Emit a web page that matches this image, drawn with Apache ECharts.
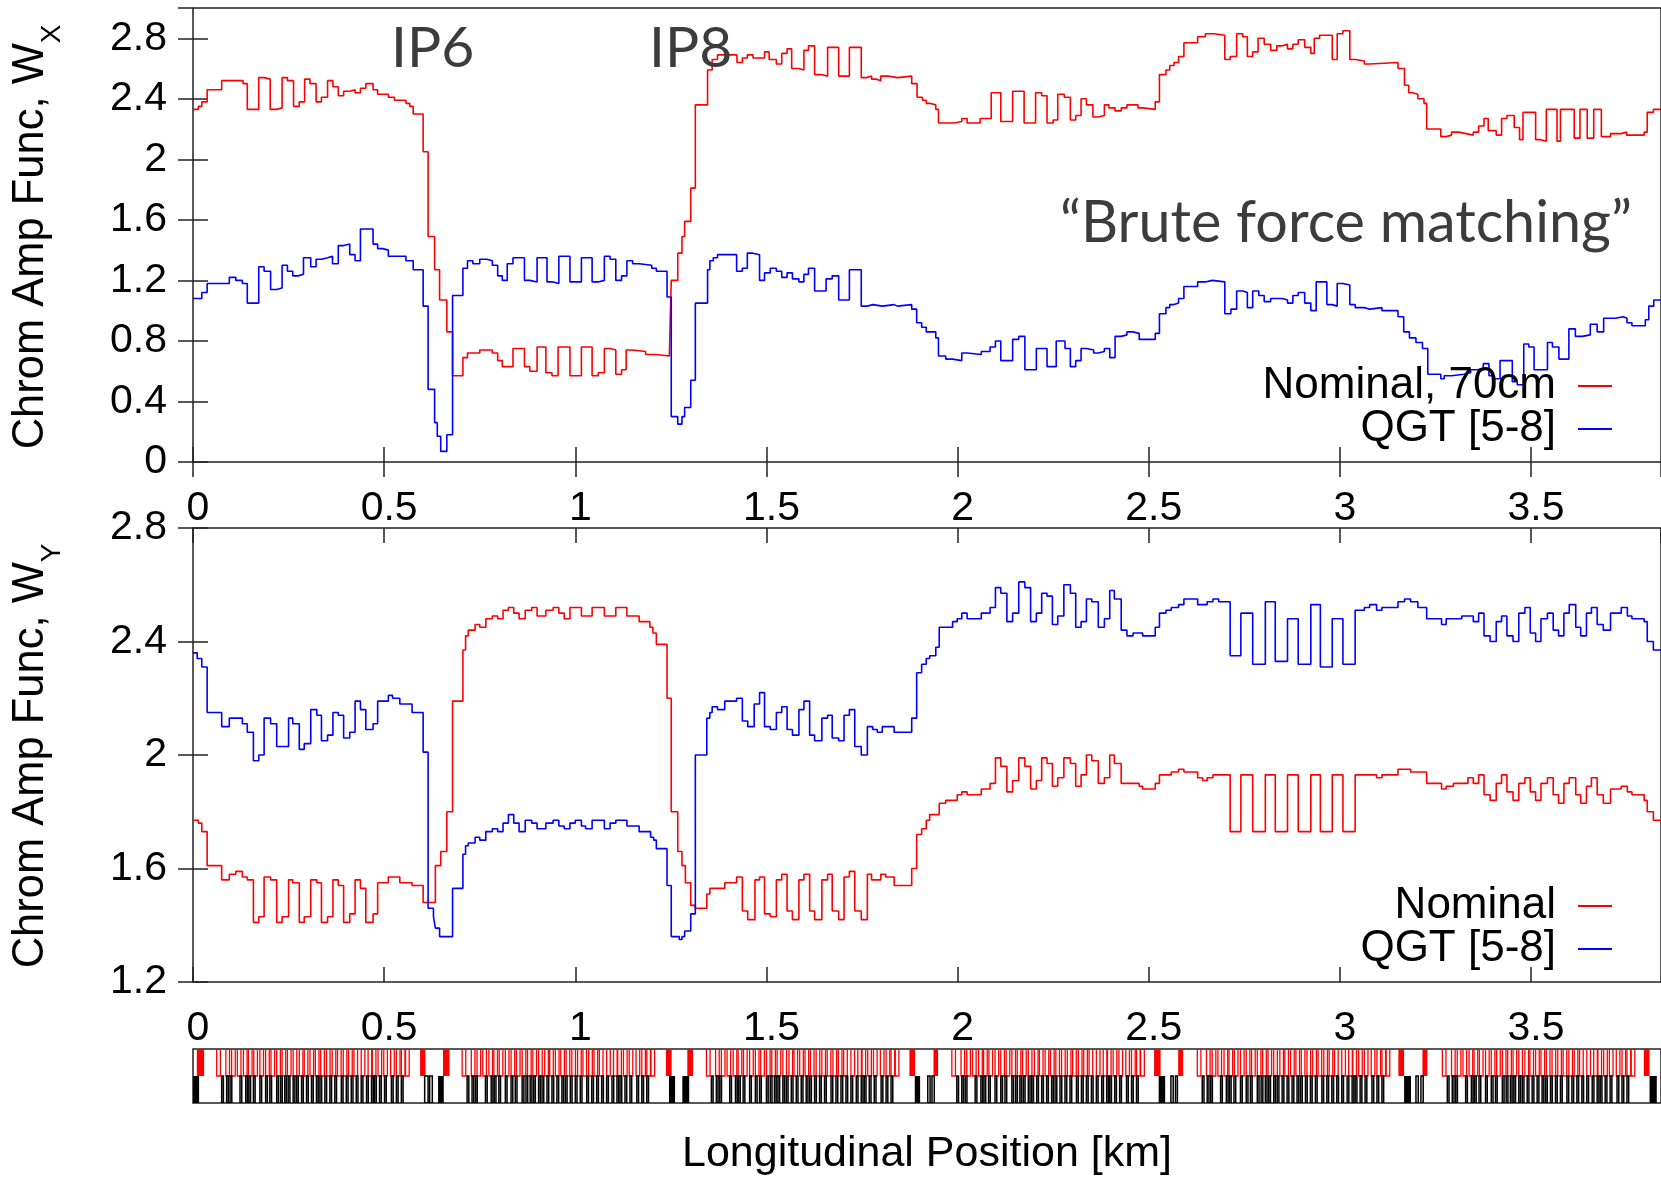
<!DOCTYPE html>
<html><head><meta charset="utf-8">
<script src="https://cdn.jsdelivr.net/npm/echarts@6/dist/echarts.min.js"></script>
<style>html,body{margin:0;padding:0;background:#fff}#c{width:1661px;height:1177px}</style>
</head><body><div id="c"></div><script>
// ---------- data (km, value) : each pair = start of a step ----------
const wxNominal = [[0,2.33],[0.014,2.35],[0.023,2.38],[0.037,2.46],[0.075,2.52],[0.131,2.50],[0.142,2.33],[0.172,2.54],[0.186,2.53],[0.202,2.33],[0.219,2.34],[0.233,2.54],[0.247,2.52],[0.263,2.35],[0.278,2.38],[0.292,2.53],[0.306,2.50],[0.322,2.38],[0.336,2.41],[0.352,2.52],[0.366,2.48],[0.380,2.42],[0.394,2.45],[0.410,2.46],[0.424,2.44],[0.438,2.47],[0.452,2.50],[0.471,2.46],[0.483,2.43],[0.511,2.41],[0.527,2.39],[0.557,2.37],[0.567,2.35],[0.576,2.30],[0.602,2.05],[0.615,1.49],[0.632,1.27],[0.645,1.07],[0.664,0.86],[0.679,0.57],[0.706,0.69],[0.718,0.72],[0.750,0.74],[0.783,0.72],[0.797,0.67],[0.809,0.63],[0.837,0.75],[0.867,0.63],[0.881,0.60],[0.900,0.76],[0.923,0.59],[0.939,0.57],[0.955,0.76],[0.986,0.57],[1.016,0.76],[1.044,0.57],[1.060,0.59],[1.076,0.75],[1.091,0.74],[1.106,0.58],[1.121,0.61],[1.133,0.74],[1.150,0.73],[1.184,0.71],[1.212,0.70],[1.246,0.69],[1.251,1.20],[1.268,1.38],[1.279,1.49],[1.286,1.59],[1.302,1.81],[1.314,2.36],[1.346,2.59],[1.358,2.66],[1.372,2.69],[1.423,2.64],[1.437,2.67],[1.450,2.69],[1.465,2.67],[1.495,2.71],[1.507,2.66],[1.526,2.63],[1.540,2.70],[1.554,2.73],[1.566,2.60],[1.584,2.59],[1.598,2.72],[1.610,2.75],[1.626,2.56],[1.643,2.55],[1.660,2.74],[1.689,2.55],[1.717,2.74],[1.748,2.54],[1.762,2.55],[1.775,2.53],[1.787,2.52],[1.799,2.55],[1.818,2.54],[1.843,2.55],[1.880,2.50],[1.894,2.41],[1.908,2.39],[1.918,2.37],[1.927,2.36],[1.943,2.33],[1.950,2.24],[1.992,2.25],[2.011,2.27],[2.025,2.24],[2.059,2.27],[2.088,2.44],[2.113,2.25],[2.144,2.45],[2.174,2.24],[2.204,2.44],[2.220,2.42],[2.234,2.24],[2.250,2.26],[2.262,2.43],[2.279,2.41],[2.295,2.26],[2.309,2.29],[2.323,2.40],[2.337,2.36],[2.354,2.28],[2.368,2.29],[2.384,2.36],[2.396,2.34],[2.412,2.32],[2.428,2.34],[2.443,2.36],[2.472,2.34],[2.484,2.33],[2.517,2.38],[2.528,2.56],[2.545,2.59],[2.555,2.62],[2.566,2.64],[2.578,2.68],[2.592,2.77],[2.628,2.81],[2.648,2.83],[2.671,2.82],[2.699,2.66],[2.713,2.68],[2.730,2.83],[2.746,2.81],[2.758,2.68],[2.772,2.71],[2.786,2.80],[2.802,2.76],[2.819,2.72],[2.835,2.75],[2.849,2.76],[2.863,2.73],[2.877,2.76],[2.891,2.79],[2.908,2.74],[2.924,2.70],[2.933,2.80],[2.947,2.82],[2.980,2.66],[2.993,2.83],[3.008,2.85],[3.026,2.66],[3.040,2.65],[3.064,2.63],[3.078,2.64],[3.152,2.60],[3.169,2.49],[3.180,2.44],[3.190,2.43],[3.204,2.40],[3.220,2.37],[3.227,2.20],[3.264,2.15],[3.278,2.16],[3.292,2.18],[3.311,2.17],[3.330,2.16],[3.349,2.18],[3.363,2.22],[3.377,2.27],[3.388,2.19],[3.409,2.16],[3.423,2.27],[3.437,2.29],[3.456,2.21],[3.470,2.13],[3.479,2.31],[3.512,2.13],[3.526,2.12],[3.540,2.33],[3.568,2.12],[3.577,2.33],[3.613,2.14],[3.628,2.33],[3.647,2.14],[3.664,2.33],[3.684,2.15],[3.708,2.17],[3.736,2.18],[3.750,2.16],[3.764,2.16],[3.796,2.18],[3.804,2.31],[3.820,2.33],[3.84,2.33]];

const wxQGT = [[0,1.08],[0.023,1.12],[0.037,1.18],[0.095,1.22],[0.112,1.20],[0.129,1.18],[0.142,1.05],[0.172,1.29],[0.186,1.26],[0.203,1.14],[0.219,1.15],[0.233,1.30],[0.247,1.26],[0.261,1.23],[0.275,1.24],[0.289,1.35],[0.308,1.29],[0.322,1.34],[0.336,1.35],[0.352,1.36],[0.365,1.31],[0.380,1.43],[0.394,1.44],[0.410,1.37],[0.424,1.33],[0.438,1.54],[0.471,1.44],[0.483,1.41],[0.496,1.40],[0.511,1.36],[0.557,1.33],[0.576,1.27],[0.602,1.03],[0.615,0.48],[0.632,0.26],[0.639,0.17],[0.648,0.07],[0.664,0.18],[0.679,1.10],[0.706,1.28],[0.718,1.33],[0.732,1.31],[0.750,1.34],[0.769,1.33],[0.783,1.30],[0.797,1.23],[0.809,1.20],[0.822,1.31],[0.837,1.35],[0.867,1.20],[0.881,1.19],[0.900,1.35],[0.926,1.19],[0.942,1.18],[0.957,1.36],[0.986,1.19],[1.016,1.35],[1.044,1.19],[1.060,1.20],[1.076,1.36],[1.091,1.34],[1.106,1.20],[1.121,1.23],[1.135,1.33],[1.150,1.31],[1.167,1.30],[1.200,1.28],[1.212,1.26],[1.240,1.09],[1.251,0.30],[1.268,0.25],[1.279,0.30],[1.286,0.36],[1.302,0.54],[1.314,1.05],[1.346,1.27],[1.352,1.33],[1.361,1.35],[1.372,1.37],[1.422,1.26],[1.437,1.28],[1.450,1.38],[1.465,1.37],[1.482,1.20],[1.495,1.25],[1.510,1.28],[1.526,1.26],[1.540,1.22],[1.554,1.25],[1.568,1.21],[1.585,1.19],[1.598,1.24],[1.610,1.28],[1.626,1.13],[1.656,1.21],[1.672,1.23],[1.689,1.07],[1.717,1.27],[1.748,1.03],[1.764,1.04],[1.778,1.03],[1.803,1.04],[1.834,1.03],[1.843,1.04],[1.880,1.01],[1.893,0.92],[1.906,0.89],[1.918,0.86],[1.943,0.82],[1.950,0.70],[1.969,0.68],[1.987,0.67],[2.011,0.72],[2.025,0.71],[2.062,0.73],[2.085,0.76],[2.099,0.80],[2.113,0.67],[2.144,0.81],[2.160,0.83],[2.176,0.61],[2.206,0.75],[2.234,0.63],[2.258,0.80],[2.281,0.75],[2.295,0.63],[2.309,0.67],[2.323,0.75],[2.337,0.74],[2.356,0.72],[2.368,0.73],[2.384,0.75],[2.398,0.69],[2.412,0.83],[2.428,0.84],[2.443,0.86],[2.459,0.85],[2.475,0.81],[2.517,0.85],[2.528,0.98],[2.545,1.02],[2.555,1.04],[2.566,1.05],[2.578,1.08],[2.592,1.16],[2.628,1.19],[2.648,1.20],[2.666,1.19],[2.699,0.98],[2.715,1.01],[2.730,1.13],[2.746,1.12],[2.758,1.02],[2.772,1.13],[2.788,1.10],[2.802,1.06],[2.819,1.08],[2.849,1.07],[2.863,1.05],[2.877,1.10],[2.891,1.12],[2.908,1.05],[2.924,1.00],[2.938,1.19],[2.966,1.04],[2.980,1.03],[2.993,1.18],[3.008,1.17],[3.026,1.04],[3.040,1.02],[3.064,1.01],[3.078,1.02],[3.110,1.00],[3.152,0.96],[3.167,0.86],[3.182,0.82],[3.199,0.79],[3.216,0.75],[3.230,0.58],[3.264,0.55],[3.273,0.57],[3.292,0.58],[3.325,0.59],[3.342,0.61],[3.360,0.62],[3.375,0.65],[3.390,0.57],[3.403,0.55],[3.419,0.67],[3.451,0.53],[3.464,0.51],[3.481,0.78],[3.494,0.76],[3.508,0.61],[3.543,0.79],[3.556,0.76],[3.573,0.68],[3.599,0.88],[3.616,0.83],[3.634,0.84],[3.655,0.91],[3.673,0.86],[3.690,0.95],[3.721,0.96],[3.741,0.95],[3.751,0.92],[3.764,0.90],[3.799,0.94],[3.808,1.03],[3.821,1.07],[3.84,1.07]];

const wyNominal = [[0,1.77],[0.014,1.76],[0.023,1.73],[0.037,1.61],[0.075,1.56],[0.095,1.58],[0.112,1.59],[0.129,1.57],[0.142,1.56],[0.158,1.41],[0.172,1.43],[0.186,1.57],[0.203,1.56],[0.219,1.41],[0.233,1.43],[0.250,1.56],[0.261,1.55],[0.278,1.41],[0.291,1.43],[0.308,1.56],[0.324,1.55],[0.336,1.41],[0.352,1.43],[0.366,1.56],[0.380,1.54],[0.394,1.41],[0.410,1.44],[0.424,1.56],[0.438,1.53],[0.452,1.41],[0.471,1.44],[0.483,1.55],[0.511,1.57],[0.541,1.55],[0.573,1.54],[0.602,1.48],[0.634,1.61],[0.648,1.66],[0.664,1.80],[0.679,2.19],[0.706,2.37],[0.713,2.42],[0.720,2.44],[0.738,2.46],[0.750,2.45],[0.766,2.48],[0.783,2.49],[0.797,2.48],[0.811,2.51],[0.825,2.52],[0.839,2.50],[0.853,2.48],[0.869,2.51],[0.886,2.52],[0.900,2.49],[0.923,2.51],[0.942,2.52],[0.957,2.50],[0.971,2.48],[0.986,2.52],[1.016,2.49],[1.044,2.52],[1.076,2.49],[1.106,2.52],[1.135,2.49],[1.167,2.47],[1.195,2.45],[1.203,2.43],[1.212,2.39],[1.240,2.20],[1.251,1.80],[1.268,1.66],[1.279,1.61],[1.288,1.55],[1.302,1.47],[1.314,1.46],[1.344,1.51],[1.352,1.53],[1.391,1.55],[1.422,1.57],[1.437,1.45],[1.451,1.42],[1.470,1.56],[1.482,1.57],[1.495,1.44],[1.510,1.43],[1.526,1.56],[1.540,1.58],[1.554,1.45],[1.568,1.42],[1.585,1.56],[1.598,1.58],[1.613,1.45],[1.626,1.42],[1.645,1.56],[1.660,1.58],[1.672,1.45],[1.689,1.42],[1.703,1.57],[1.717,1.59],[1.731,1.45],[1.748,1.42],[1.764,1.58],[1.775,1.56],[1.799,1.58],[1.812,1.57],[1.834,1.54],[1.880,1.60],[1.893,1.72],[1.906,1.74],[1.918,1.77],[1.927,1.79],[1.952,1.83],[1.969,1.84],[1.999,1.86],[2.011,1.87],[2.025,1.86],[2.062,1.88],[2.085,1.90],[2.099,1.99],[2.113,1.96],[2.129,1.87],[2.144,1.91],[2.160,1.99],[2.176,1.96],[2.191,1.88],[2.206,1.91],[2.220,1.99],[2.234,1.97],[2.248,1.89],[2.262,1.92],[2.278,1.99],[2.295,1.97],[2.309,1.89],[2.323,1.93],[2.337,2.00],[2.351,1.98],[2.368,1.90],[2.384,1.92],[2.398,2.00],[2.410,1.97],[2.428,1.90],[2.475,1.89],[2.484,1.88],[2.517,1.90],[2.528,1.93],[2.559,1.94],[2.578,1.95],[2.592,1.94],[2.628,1.92],[2.641,1.91],[2.653,1.92],[2.668,1.93],[2.713,1.73],[2.741,1.93],[2.772,1.73],[2.805,1.93],[2.831,1.73],[2.863,1.93],[2.891,1.73],[2.924,1.93],[2.949,1.73],[2.980,1.93],[3.008,1.73],[3.040,1.93],[3.096,1.92],[3.110,1.93],[3.152,1.95],[3.185,1.94],[3.227,1.90],[3.266,1.88],[3.278,1.89],[3.297,1.90],[3.335,1.92],[3.349,1.90],[3.363,1.93],[3.377,1.86],[3.393,1.84],[3.409,1.90],[3.423,1.93],[3.437,1.87],[3.453,1.84],[3.468,1.90],[3.484,1.92],[3.498,1.87],[3.512,1.84],[3.526,1.90],[3.543,1.92],[3.558,1.86],[3.572,1.83],[3.586,1.90],[3.600,1.92],[3.617,1.86],[3.630,1.83],[3.645,1.89],[3.658,1.92],[3.673,1.86],[3.689,1.83],[3.708,1.88],[3.736,1.89],[3.752,1.87],[3.764,1.86],[3.796,1.84],[3.804,1.80],[3.820,1.77],[3.84,1.77]];

const wyQGT = [[0,2.36],[0.011,2.34],[0.023,2.31],[0.037,2.15],[0.075,2.10],[0.095,2.13],[0.129,2.11],[0.142,2.08],[0.158,1.98],[0.172,2.00],[0.186,2.13],[0.203,2.11],[0.219,2.03],[0.233,2.03],[0.250,2.13],[0.261,2.11],[0.278,2.02],[0.291,2.04],[0.308,2.16],[0.324,2.14],[0.336,2.05],[0.352,2.07],[0.366,2.15],[0.380,2.14],[0.394,2.06],[0.410,2.08],[0.424,2.19],[0.438,2.16],[0.452,2.09],[0.471,2.11],[0.483,2.19],[0.511,2.21],[0.522,2.20],[0.541,2.18],[0.573,2.15],[0.602,2.01],[0.615,1.46],[0.629,1.43],[0.634,1.39],[0.645,1.36],[0.679,1.53],[0.706,1.65],[0.713,1.68],[0.720,1.69],[0.738,1.71],[0.750,1.70],[0.766,1.73],[0.783,1.74],[0.797,1.73],[0.811,1.76],[0.825,1.79],[0.839,1.76],[0.853,1.73],[0.869,1.77],[0.886,1.76],[0.900,1.74],[0.923,1.76],[0.942,1.77],[0.957,1.75],[0.971,1.74],[0.986,1.76],[1.000,1.77],[1.016,1.75],[1.027,1.74],[1.044,1.77],[1.076,1.74],[1.091,1.76],[1.106,1.77],[1.135,1.75],[1.167,1.73],[1.197,1.71],[1.205,1.70],[1.212,1.67],[1.240,1.54],[1.251,1.36],[1.272,1.35],[1.279,1.36],[1.286,1.38],[1.302,1.44],[1.314,2.00],[1.344,2.13],[1.352,2.15],[1.358,2.17],[1.372,2.16],[1.391,2.19],[1.422,2.20],[1.437,2.12],[1.451,2.10],[1.468,2.18],[1.482,2.22],[1.495,2.10],[1.510,2.09],[1.526,2.15],[1.540,2.17],[1.554,2.09],[1.568,2.07],[1.585,2.16],[1.598,2.19],[1.613,2.07],[1.626,2.05],[1.645,2.13],[1.660,2.14],[1.672,2.06],[1.689,2.05],[1.703,2.14],[1.717,2.16],[1.731,2.03],[1.748,2.00],[1.764,2.10],[1.778,2.09],[1.790,2.08],[1.803,2.10],[1.834,2.08],[1.880,2.13],[1.893,2.29],[1.906,2.32],[1.918,2.34],[1.927,2.35],[1.943,2.38],[1.952,2.45],[1.987,2.47],[1.999,2.48],[2.011,2.50],[2.025,2.48],[2.062,2.50],[2.085,2.52],[2.099,2.59],[2.113,2.57],[2.129,2.47],[2.144,2.50],[2.160,2.61],[2.176,2.59],[2.191,2.47],[2.206,2.50],[2.220,2.57],[2.234,2.56],[2.248,2.46],[2.262,2.49],[2.278,2.60],[2.295,2.57],[2.309,2.45],[2.323,2.47],[2.337,2.55],[2.351,2.54],[2.368,2.45],[2.384,2.48],[2.398,2.58],[2.410,2.55],[2.428,2.44],[2.443,2.42],[2.459,2.43],[2.484,2.42],[2.517,2.45],[2.528,2.50],[2.545,2.51],[2.559,2.52],[2.578,2.53],[2.592,2.55],[2.628,2.53],[2.653,2.54],[2.668,2.55],[2.683,2.54],[2.713,2.35],[2.741,2.50],[2.772,2.32],[2.805,2.54],[2.831,2.33],[2.863,2.48],[2.891,2.32],[2.924,2.53],[2.949,2.31],[2.980,2.48],[3.008,2.32],[3.040,2.51],[3.064,2.52],[3.078,2.53],[3.096,2.51],[3.110,2.52],[3.152,2.54],[3.169,2.55],[3.185,2.54],[3.204,2.52],[3.227,2.48],[3.266,2.46],[3.278,2.48],[3.319,2.49],[3.349,2.47],[3.363,2.50],[3.377,2.42],[3.393,2.40],[3.409,2.47],[3.423,2.49],[3.437,2.42],[3.453,2.40],[3.468,2.50],[3.484,2.52],[3.498,2.43],[3.512,2.40],[3.526,2.48],[3.543,2.50],[3.558,2.44],[3.572,2.42],[3.586,2.50],[3.600,2.53],[3.617,2.45],[3.630,2.42],[3.645,2.50],[3.658,2.52],[3.673,2.46],[3.689,2.44],[3.708,2.50],[3.736,2.52],[3.752,2.49],[3.764,2.48],[3.796,2.47],[3.804,2.40],[3.820,2.37],[3.84,2.37]];

// ---------- lattice (km) ----------
const arcStarts = [0.062, 0.704, 1.343, 1.985, 2.627, 3.268];
const dipoleOffsets = [0,0.024,0.039,0.054,0.070,0.083,0.097,0.113,0.128,0.142,0.157,0.171,0.185,0.200,0.216,0.229,0.244,0.258,0.272,0.287,0.302,0.316,0.331,0.345,0.359,0.378,0.396,0.407,0.422,0.437,0.455,0.470,0.483,0.494];
const quadOffsets = [0.013,0.026,0.035,0.061,0.076,0.084,0.096,0.113,0.128,0.139,0.157,0.167,0.178,0.187,0.200,0.209,0.222,0.235,0.248,0.261,0.270,0.283,0.296,0.309,0.326,0.339,0.352,0.365,0.378,0.392,0.405,0.413,0.426,0.439,0.457,0.470,0.483];
const dipoleLength = 0.0095, quadLength = 0.0045;
const irDipoles = [[0.010,0.029],[0.594,0.608],[0.654,0.671],[1.237,1.252],[1.293,1.308],[1.874,1.889],[1.937,1.949],[2.514,2.531],[2.577,2.590],[3.153,3.168],[3.216,3.229],[3.795,3.810]];
const irQuads = [[0.000,0.016],[0.641,0.656],[1.245,1.261],[1.280,1.298],[1.888,1.902],[2.526,2.543],[3.168,3.186],[3.810,3.829]];
const irThinQuads = [[0.606,0.615],[0.619,0.626],[1.922,1.928],[1.933,1.939],[2.558,2.564],[2.570,2.575],[3.199,3.205],[3.212,3.218]];

const xTicks = {min:0, max:3.84, interval:0.5};
const wxTicks = {min:0, max:3.0, interval:0.4};
const wyTicks = {min:1.2, max:2.8, interval:0.4};

// ---------- build ----------
const latticeData = [];
arcStarts.forEach(a => {
  dipoleOffsets.forEach(o => latticeData.push([a + o, a + o + dipoleLength, 0]));
  quadOffsets.forEach(o => latticeData.push([a + o, a + o + quadLength, 2]));
});
irDipoles.forEach(r => latticeData.push([r[0], r[1], 1]));
irQuads.forEach(r => latticeData.push([r[0], r[1], 3]));
irThinQuads.forEach(r => latticeData.push([r[0], r[1], 2]));

const FONT = 'Liberation Sans, Arial, Helvetica, sans-serif';
const FRAME = '#222';
const tickStyle = {inside:true, length:15, lineStyle:{color:FRAME, width:1.5}};
function xAx(grid, pos, labels){
  return {type:'value', gridIndex:grid, position:pos, min:xTicks.min, max:xTicks.max, interval:xTicks.interval,
    axisLine:{show:false}, splitLine:{show:false}, axisTick:tickStyle,
    axisLabel:{show:labels, margin:26, padding:[0,0,0,10], showMaxLabel:false, fontSize:41, fontFamily:FONT, color:'#000'}};
}
function yAx(grid, pos, labels, t){
  return {type:'value', gridIndex:grid, position:pos, min:t.min, max:t.max, interval:t.interval,
    axisLine:{show:false}, splitLine:{show:false}, axisTick:tickStyle,
    axisLabel:{show:labels, margin:26, showMaxLabel: t.max === 2.8, fontSize:41, fontFamily:FONT, color:'#000'}};
}
const gridBox = {show:true, borderColor:FRAME, borderWidth:1.5, backgroundColor:'transparent'};
const legendCommon = {orient:'vertical', right:44, align:'right', icon:'rect',
  itemWidth:34, itemHeight:2, itemGap:-1, selectedMode:false,
  textStyle:{fontSize:44, fontFamily:FONT, color:'#000', padding:[0,17,0,0]}};

const option = {
  animation:false,
  backgroundColor:'#fff',
  grid:[
    Object.assign({left:193, top:8, width:1471, height:454}, gridBox),
    Object.assign({left:193, top:528, width:1471, height:454}, gridBox),
    Object.assign({left:193, top:1049, width:1471, height:64}, gridBox)
  ],
  xAxis:[
    xAx(0,'bottom',true), xAx(0,'top',false),
    xAx(1,'bottom',true), xAx(1,'top',false),
    {type:'value', gridIndex:2, position:'bottom', min:xTicks.min, max:xTicks.max, interval:xTicks.interval,
     axisLine:{show:false}, axisTick:{show:false}, axisLabel:{show:false}, splitLine:{show:false},
     name:'Longitudinal Position [km]', nameLocation:'middle', nameGap:30,
     nameTextStyle:{fontSize:43, fontFamily:FONT, color:'#000'}}
  ],
  yAxis:[
    yAx(0,'left',true,wxTicks), yAx(0,'right',false,wxTicks),
    yAx(1,'left',true,wyTicks), yAx(1,'right',false,wyTicks),
    {type:'value', gridIndex:2, min:0, max:2, show:false}
  ],
  legend:[
    Object.assign({data:['Nominal, 70cm','QGT [5-8]'], top:359}, legendCommon),
    Object.assign({data:['Nominal','QGT [5-8]'], top:879}, legendCommon)
  ],
  series:[
    {type:'line', name:'Nominal, 70cm', xAxisIndex:0, yAxisIndex:0, step:'end', data:wxNominal, symbol:'none',
     color:'#ff0000', lineStyle:{color:'#ff0000', width:1.6}, silent:true},
    {type:'line', name:'QGT [5-8]', xAxisIndex:0, yAxisIndex:0, step:'end', data:wxQGT, symbol:'none',
     color:'#0000ff', lineStyle:{color:'#0000ff', width:1.6}, silent:true},
    {type:'line', name:'Nominal', xAxisIndex:2, yAxisIndex:2, step:'end', data:wyNominal, symbol:'none',
     color:'#ff0000', lineStyle:{color:'#ff0000', width:1.6}, silent:true},
    {type:'line', name:'QGT [5-8]', xAxisIndex:2, yAxisIndex:2, step:'end', data:wyQGT, symbol:'none',
     color:'#0000ff', lineStyle:{color:'#0000ff', width:1.6}, silent:true},
    {type:'custom', name:'lattice', xAxisIndex:4, yAxisIndex:4, data:latticeData, silent:true, clip:true,
     renderItem:function(params, api){
       const k = api.value(2);
       const red = k < 2;
       const p0 = api.coord([api.value(0), red ? 2 : 1]);
       const p1 = api.coord([api.value(1), red ? 1 : 0]);
       const w = Math.max(p1[0] - p0[0], 1);
       const color = red ? '#ff0000' : '#000000';
       const filled = (k === 1 || k === 3);
       return {type:'rect', shape:{x:p0[0], y:p0[1], width:w, height:p1[1]-p0[1]},
         style: filled ? {fill:color} : {fill:'none', stroke:color, lineWidth: red ? 1.3 : 1.5}};
     }}
  ],
  graphic:[
    {type:'text', x:31, y:237, rotation:Math.PI/2, z:10,
     style:{text:'{a|Chrom Amp Func, W}{s|X}', align:'center', verticalAlign:'middle', fill:'#000',
       rich:{a:{fontSize:43.5, fontFamily:FONT, fill:'#000', lineHeight:70},
             s:{fontSize:28, fontFamily:FONT, fill:'#000', lineHeight:30, verticalAlign:'bottom'}}}},
    {type:'text', x:31, y:756, rotation:Math.PI/2, z:10,
     style:{text:'{a|Chrom Amp Func, W}{s|Y}', align:'center', verticalAlign:'middle', fill:'#000',
       rich:{a:{fontSize:43.5, fontFamily:FONT, fill:'#000', lineHeight:70},
             s:{fontSize:28, fontFamily:FONT, fill:'#000', lineHeight:30, verticalAlign:'bottom'}}}},
    {type:'text', x:391, y:49, z:10,
     style:{text:'IP6', fontSize:57, fontFamily:'Lato', fill:'#3c3c3c', align:'left', verticalAlign:'middle'}},
    {type:'text', x:649, y:49, z:10,
     style:{text:'IP8', fontSize:57, fontFamily:'Lato', fill:'#3c3c3c', align:'left', verticalAlign:'middle'}},
    {type:'text', x:1060, y:223, z:10,
     style:{text:'\u201CBrute force matching\u201D', fontSize:57.5, fontFamily:'Lato', fill:'#3c3c3c', align:'left', verticalAlign:'middle'}}
  ]
};
const chart = echarts.init(document.getElementById('c'), null, {renderer:'canvas'});
chart.setOption(option);
</script></body></html>
